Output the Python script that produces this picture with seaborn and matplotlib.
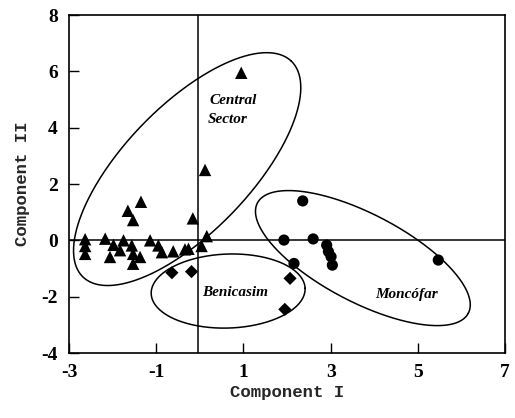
import numpy as np
import pandas as pd
import matplotlib
matplotlib.use("Agg")
import matplotlib.pyplot as plt
import seaborn as sns

# ---- data ----
central_x = [0.95, 0.12, -1.35, -1.65, -1.53, -0.16, 0.16,
             -2.63, -2.17, -1.75, -1.14,
             -2.63, -1.98, -1.56, -0.95, 0.04, -0.26,
             -2.63, -2.06, -1.83, -1.53, -0.87, -0.61, -0.34, -1.53, -1.37]
central_y = [5.95, 2.50, 1.37, 1.05, 0.72, 0.78, 0.15,
             0.04, 0.06, 0.00, 0.00,
             -0.20, -0.16, -0.18, -0.18, -0.20, -0.30,
             -0.48, -0.59, -0.35, -0.48, -0.42, -0.39, -0.32, -0.83, -0.59]
benicasim_x = [-0.64, -0.19, 2.07, 1.95]
benicasim_y = [-1.15, -1.11, -1.35, -2.45]
moncofar_x = [2.36, 1.93, 2.60, 2.91, 2.95, 3.01, 3.04, 2.16, 5.47]
moncofar_y = [1.40, 0.01, 0.05, -0.17, -0.40, -0.58, -0.88, -0.82, -0.70]

x_ticks = [-3, -1, 1, 3, 5, 7]
y_ticks = [-4, -2, 0, 2, 4, 6, 8]

df = pd.concat([
    pd.DataFrame({"x": central_x, "y": central_y, "group": "Central Sector"}),
    pd.DataFrame({"x": benicasim_x, "y": benicasim_y, "group": "Benicasim"}),
    pd.DataFrame({"x": moncofar_x, "y": moncofar_y, "group": "Moncofar"}),
], ignore_index=True)

sns.set_theme(style="white")
plt.rcParams["axes.unicode_minus"] = False
plt.rcParams["font.family"] = ["Liberation Serif", "DejaVu Serif"]

fig = plt.figure(figsize=(5.15, 4.18), dpi=100)
ax = fig.add_axes([0.134, 0.1555, 0.8466, 0.8085])

sns.scatterplot(data=df, x="x", y="y", style="group", size="group",
                markers={"Central Sector": "^", "Benicasim": "D", "Moncofar": "o"},
                sizes={"Central Sector": 80, "Benicasim": 45, "Moncofar": 65},
                color="black", edgecolor="black", linewidth=0,
                legend=False, ax=ax, zorder=3)

ax.set_xlim(-3, 7)
ax.set_ylim(-4, 8)
ax.axhline(0, color="black", lw=1.1, zorder=1)
ax.axvline(-0.05, color="black", lw=1.1, zorder=1)

# ---- group ellipses (annotations) ----
bbox = ax.get_position()
W, H = fig.get_size_inches() * fig.dpi
sx = bbox.width * W / 10.0   # px per x unit
sy = bbox.height * H / 12.0  # px per y unit

def draw_ellipse(cx, cy, a_px, b_px, ang_deg):
    t = np.linspace(0, 2 * np.pi, 400)
    u = a_px * np.cos(t)
    v = b_px * np.sin(t)
    th = np.deg2rad(ang_deg)
    xr = u * np.cos(th) - v * np.sin(th)
    yr = u * np.sin(th) + v * np.cos(th)
    ax.plot(cx + xr / sx, cy + yr / sy, color="black", lw=1.1, zorder=1)

draw_ellipse(-0.29, 2.53, 150, 63, 46)
draw_ellipse(0.65, -1.80, 77, 37, 2)
draw_ellipse(3.74, -0.63, 119, 44, -27.6)

txt = dict(fontstyle="italic", fontweight="bold", fontsize=11, color="black",
           family=["Liberation Serif", "DejaVu Serif"])
ax.text(0.22, 4.95, "Central", ha="left", va="center", **txt)
ax.text(0.17, 4.30, "Sector", ha="left", va="center", **txt)
ax.text(0.81, -1.85, "Benicasim", ha="center", va="center", **txt)
ax.text(4.75, -1.92, "Moncófar", ha="center", va="center", **txt)

ax.set_xticks(x_ticks)
ax.set_yticks(y_ticks)
ax.set_xticklabels([str(v) for v in x_ticks])
ax.set_yticklabels([str(v) for v in y_ticks])
ax.tick_params(direction="in", length=7, width=1, colors="black",
               labelsize=14, pad=8, bottom=True, left=True)
for lab in ax.get_xticklabels() + ax.get_yticklabels():
    lab.set_fontweight("bold")
    lab.set_family(["Liberation Serif", "DejaVu Serif"])

for sp in ax.spines.values():
    sp.set_color("black")
    sp.set_linewidth(1.2)
    sp.set_visible(True)

lab = dict(fontweight="bold", fontsize=12.5, family=["Liberation Mono", "DejaVu Sans Mono"])
ax.set_xlabel("Component I", labelpad=3, **lab)
ax.set_ylabel("Component II", labelpad=8, **lab)

fig.savefig("out.png", dpi=100, facecolor="white")
